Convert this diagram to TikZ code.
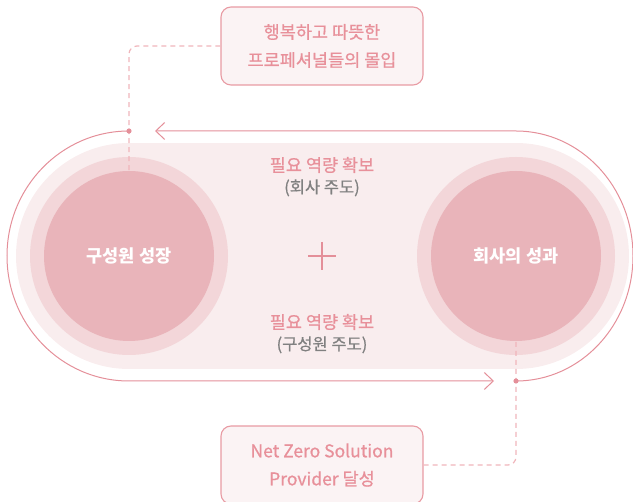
\documentclass[tikz,border=0pt]{standalone}
\usepackage{fontspec}
\setmainfont{Noto Sans CJK KR}
\newfontfamily\medium[FakeBold=0.7]{Noto Sans CJK KR}
\usetikzlibrary{arrows.meta,positioning}
\definecolor{roseline}{HTML}{E48F99}
\definecolor{rosetext}{HTML}{E8909A}
\definecolor{roseinner}{HTML}{E9B4BA}
\definecolor{rosering}{HTML}{F3D6D9}
\definecolor{roseband}{HTML}{F9EDEE}
\definecolor{rosebox}{HTML}{FBF3F4}
\definecolor{boxline}{HTML}{E89BA3}
\definecolor{rosedash}{HTML}{F0B5BB}
\definecolor{greytext}{HTML}{808080}

\begin{document}
\begin{tikzpicture}[
  x=1pt,y=-1pt,
  hub/.style={circle,fill=roseinner,minimum size=170pt,inner sep=0pt,text=white,font=\fontsize{17.5}{20}\selectfont\bfseries},
  note/.style={draw=boxline,fill=rosebox,rounded corners=10pt,line width=1.1pt,minimum width=202pt,minimum height=78pt,align=center,text=rosetext,font=\medium\fontsize{17.5}{28}\selectfont},
  track/.style={draw=roseline,line width=1pt},
  flow/.style={track,-{Straight Barb[length=9pt,width=17pt,line width=1pt]}},
  lead/.style={draw=rosedash,line width=1.2pt,dash pattern=on 5pt off 4pt,rounded corners=8pt},
  need/.style={text=rosetext,inner sep=1pt,font=\medium\fontsize{17.5}{20}\selectfont},
  who/.style={text=greytext,inner sep=1pt,font=\medium\fontsize{16.5}{19}\selectfont}
]
\useasboundingbox (0,0) rectangle (633,502);
\fill[roseband] (129,143) rectangle (516,369);
\fill[roseband] (129,256) circle (113);
\fill[roseband] (516,256) circle (113);
\fill[rosering] (129,256) circle (99);
\fill[rosering] (516,256) circle (99);
\node[hub] (grow) at (129,256) {구성원 성장};
\node[hub] (perf) at (516,256) {회사의 성과};
\node[note] (topnote) at (322,46) {행복하고 따뜻한\\프로페셔널들의 몰입};
\node[note] (botnote) at (322,465) {Net Zero Solution\\Provider 달성};
\node[need] (need1) at (322,165) {필요 역량 확보};
\node[who,below=4pt of need1] (lead1) {(회사 주도)};
\node[need] (need2) at (322,322) {필요 역량 확보};
\node[who,below=4pt of need2] (lead2) {(구성원 주도)};
\draw[roseline,line width=1.8pt] (308,256) -- (336,256) (322,242) -- (322,270);
\coordinate (tl) at (129,131);
\coordinate (br) at (516,381);
\draw[flow] (tl) arc[start angle=270,end angle=90,x radius=122,y radius=125] -- (494,381);
\draw[flow] (br) arc[start angle=90,end angle=-90,x radius=117,y radius=125] -- (155,131);
\draw[lead] (topnote.west) -| (grow.north);
\draw[lead] (botnote.east) -| (perf.south);
\fill[roseline] (tl) circle (2.6);
\fill[roseline] (br) circle (2.6);
\end{tikzpicture}
\end{document}
